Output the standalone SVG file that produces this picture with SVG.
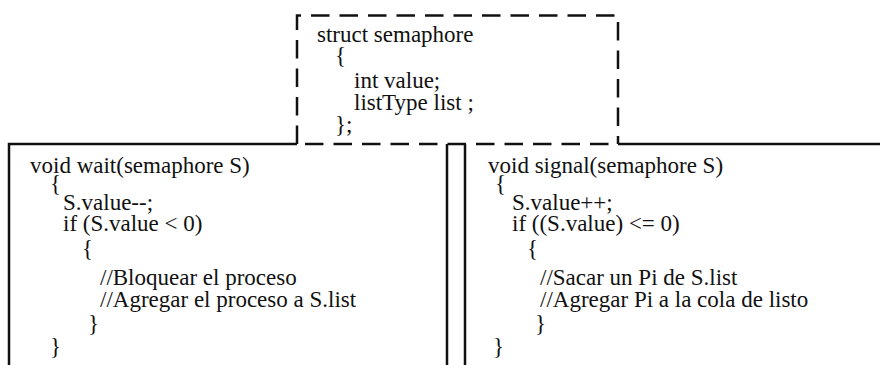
<svg xmlns="http://www.w3.org/2000/svg" width="880" height="365" viewBox="0 0 880 365" font-family="Liberation Serif, Tinos, Times New Roman, DejaVu Serif, serif" font-size="23">
<style>
text{fill:#111}
.solid{fill:none;stroke:#111;stroke-width:2.5}
.dash{fill:none;stroke:#111;stroke-width:2.5;stroke-dasharray:18.5 10}
</style>
<rect width="880" height="365" fill="#fff"/>
<g id="wait">
<path class="solid" d="M297,144 H9 V370 M447,144 V370"/>
<text x="30" y="173">void wait(semaphore S)</text>
<text x="50" y="191">{</text>
<text x="63" y="210">S.value--;</text>
<text x="63" y="231">if (S.value &lt; 0)</text>
<text x="82" y="256">{</text>
<text x="100" y="285">//Bloquear el proceso</text>
<text x="100" y="307">//Agregar el proceso a S.list</text>
<text x="88" y="331">}</text>
<text x="50" y="354">}</text>
</g>
<g id="signal">
<path class="solid" d="M465,144 V370 M618,144 H885"/>
<text x="488" y="173">void signal(semaphore S)</text>
<text x="495" y="191">{</text>
<text x="512" y="210">S.value++;</text>
<text x="512" y="231">if ((S.value) &lt;= 0)</text>
<text x="527" y="256">{</text>
<text x="540" y="285">//Sacar un Pi de S.list</text>
<text x="540" y="307">//Agregar Pi a la cola de listo</text>
<text x="535" y="331">}</text>
<text x="493" y="354">}</text>
</g>
<g id="struct">
<path class="dash" d="M297,144 V15.5 H618 V144"/>
<path class="dash" d="M305,144 H618"/>
<text x="317" y="42">struct semaphore</text>
<text x="335" y="63">{</text>
<text x="354" y="88">int value;</text>
<text x="354" y="110">listType list ;</text>
<text x="335" y="132">};</text>
</g>
</svg>
